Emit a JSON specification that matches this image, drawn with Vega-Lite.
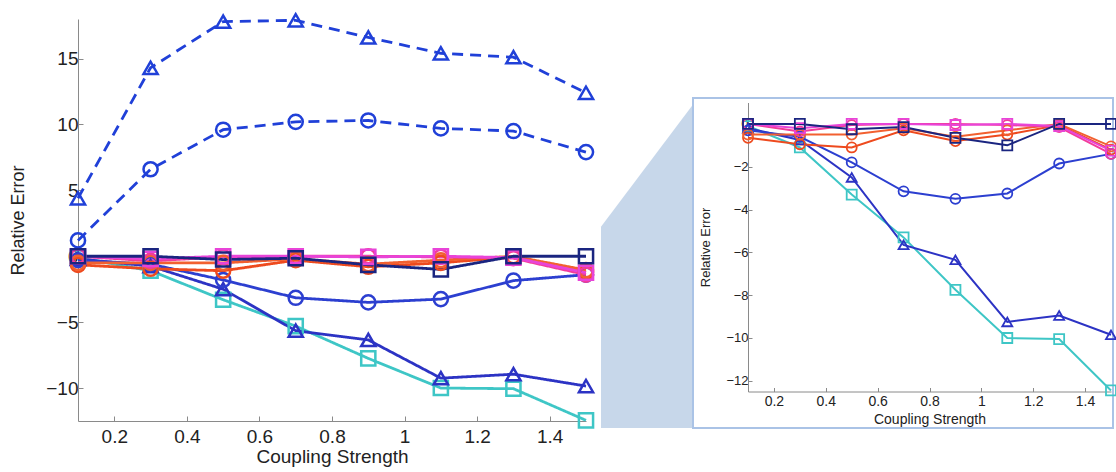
{
  "$schema": "https://vega.github.io/schema/vega-lite/v6.json",
  "padding": {"left": 9, "top": 9, "right": 0, "bottom": 0},
  "autosize": {"type": "pad"},
  "background": "white",
  "config": {
    "view": {"stroke": null},
    "axis": {"grid": false, "labelFont": "Liberation Sans", "titleFont": "Liberation Sans", "titleFontWeight": "normal", "domainColor": "#8a8a8a", "tickColor": "#8a8a8a", "labelColor": "#222222", "titleColor": "#222222", "labelOverlap": false, "labelFlush": false, "format": "~g"}
  },
  "datasets": {
    "main": [
      {"s": "dashTri", "x": 0.1, "y": 4.4}, {"s": "dashTri", "x": 0.3, "y": 14.3}, {"s": "dashTri", "x": 0.5, "y": 17.8}, {"s": "dashTri", "x": 0.7, "y": 17.9}, {"s": "dashTri", "x": 0.9, "y": 16.6}, {"s": "dashTri", "x": 1.1, "y": 15.4}, {"s": "dashTri", "x": 1.3, "y": 15.1}, {"s": "dashTri", "x": 1.5, "y": 12.4},
      {"s": "dashCirc", "x": 0.1, "y": 1.2}, {"s": "dashCirc", "x": 0.3, "y": 6.6}, {"s": "dashCirc", "x": 0.5, "y": 9.6}, {"s": "dashCirc", "x": 0.7, "y": 10.2}, {"s": "dashCirc", "x": 0.9, "y": 10.3}, {"s": "dashCirc", "x": 1.1, "y": 9.7}, {"s": "dashCirc", "x": 1.3, "y": 9.5}, {"s": "dashCirc", "x": 1.5, "y": 7.9},
      {"s": "cyanSq", "x": 0.1, "y": -0.1}, {"s": "cyanSq", "x": 0.3, "y": -1.1}, {"s": "cyanSq", "x": 0.5, "y": -3.3}, {"s": "cyanSq", "x": 0.7, "y": -5.3}, {"s": "cyanSq", "x": 0.9, "y": -7.75}, {"s": "cyanSq", "x": 1.1, "y": -10.0}, {"s": "cyanSq", "x": 1.3, "y": -10.05}, {"s": "cyanSq", "x": 1.5, "y": -12.45},
      {"s": "blueTri", "x": 0.1, "y": -0.2}, {"s": "blueTri", "x": 0.3, "y": -0.75}, {"s": "blueTri", "x": 0.5, "y": -2.5}, {"s": "blueTri", "x": 0.7, "y": -5.65}, {"s": "blueTri", "x": 0.9, "y": -6.35}, {"s": "blueTri", "x": 1.1, "y": -9.25}, {"s": "blueTri", "x": 1.3, "y": -8.95}, {"s": "blueTri", "x": 1.5, "y": -9.85},
      {"s": "blueCirc", "x": 0.1, "y": -0.3}, {"s": "blueCirc", "x": 0.3, "y": -0.6}, {"s": "blueCirc", "x": 0.5, "y": -1.8}, {"s": "blueCirc", "x": 0.7, "y": -3.15}, {"s": "blueCirc", "x": 0.9, "y": -3.5}, {"s": "blueCirc", "x": 1.1, "y": -3.25}, {"s": "blueCirc", "x": 1.3, "y": -1.85}, {"s": "blueCirc", "x": 1.5, "y": -1.4},
      {"s": "redA", "x": 0.1, "y": -0.65}, {"s": "redA", "x": 0.3, "y": -0.95}, {"s": "redA", "x": 0.5, "y": -1.1}, {"s": "redA", "x": 0.7, "y": -0.3}, {"s": "redA", "x": 0.9, "y": -0.8}, {"s": "redA", "x": 1.1, "y": -0.5}, {"s": "redA", "x": 1.3, "y": -0.05}, {"s": "redA", "x": 1.5, "y": -1.2},
      {"s": "redB", "x": 0.1, "y": -0.5}, {"s": "redB", "x": 0.3, "y": -0.5}, {"s": "redB", "x": 0.5, "y": -0.5}, {"s": "redB", "x": 0.7, "y": -0.2}, {"s": "redB", "x": 0.9, "y": -0.6}, {"s": "redB", "x": 1.1, "y": -0.3}, {"s": "redB", "x": 1.3, "y": 0}, {"s": "redB", "x": 1.5, "y": -1.05},
      {"s": "pinkCirc", "x": 0.1, "y": 0}, {"s": "pinkCirc", "x": 0.3, "y": -0.35}, {"s": "pinkCirc", "x": 0.5, "y": -0.05}, {"s": "pinkCirc", "x": 0.7, "y": 0}, {"s": "pinkCirc", "x": 0.9, "y": 0}, {"s": "pinkCirc", "x": 1.1, "y": -0.05}, {"s": "pinkCirc", "x": 1.3, "y": -0.15}, {"s": "pinkCirc", "x": 1.5, "y": -1.4},
      {"s": "magSq", "x": 0.1, "y": 0}, {"s": "magSq", "x": 0.3, "y": -0.2}, {"s": "magSq", "x": 0.5, "y": 0}, {"s": "magSq", "x": 0.7, "y": 0}, {"s": "magSq", "x": 0.9, "y": -0.05}, {"s": "magSq", "x": 1.1, "y": 0}, {"s": "magSq", "x": 1.3, "y": -0.1}, {"s": "magSq", "x": 1.5, "y": -1.25},
      {"s": "navySq", "x": 0.1, "y": 0}, {"s": "navySq", "x": 0.3, "y": 0}, {"s": "navySq", "x": 0.5, "y": -0.25}, {"s": "navySq", "x": 0.7, "y": -0.15}, {"s": "navySq", "x": 0.9, "y": -0.65}, {"s": "navySq", "x": 1.1, "y": -1.0}, {"s": "navySq", "x": 1.3, "y": 0}, {"s": "navySq", "x": 1.5, "y": 0}
    ],
    "trap": [
      {"tx": 0, "top": 61, "bottom": 0},
      {"tx": 100, "top": 98, "bottom": 0}
    ]
  },
  "resolve": {"scale": {"color": "independent", "shape": "independent", "strokeDash": "independent", "strokeWidth": "independent"}},
  "spacing": 15,
  "bounds": "flush",
  "hconcat": [
    {
      "width": 508,
      "height": 402,
      "data": {"name": "main"},
      "encoding": {
        "x": {"field": "x", "type": "quantitative", "scale": {"domain": [0.1, 1.5], "nice": false, "zero": false},
              "axis": {"values": [0.2, 0.4, 0.6, 0.8, 1, 1.2, 1.4], "title": "Coupling Strength", "labelFontSize": 19, "titleFontSize": 19, "tickSize": -5, "labelPadding": 11.5, "titlePadding": 1}},
        "y": {"field": "y", "type": "quantitative", "scale": {"domain": [-12.5, 18], "nice": false, "zero": false},
              "axis": {"values": [-10, -5, 0, 5, 10, 15], "title": "Relative Error", "labelFontSize": 19, "titleFontSize": 18, "tickSize": -5, "labelAlign": "right", "labelPadding": 5, "titlePadding": 18}},
        "color": {"field": "s", "type": "nominal", "legend": null,
                  "scale": {"domain": ["dashTri", "dashCirc", "cyanSq", "blueTri", "blueCirc", "redA", "redB", "pinkCirc", "magSq", "navySq"],
                            "range": ["#2040d8", "#2040d8", "#3ec6c6", "#2c33c4", "#2c3fd0", "#ee4a1e", "#f26030", "#f23c9a", "#e844d8", "#1a2580"]}}
      },
      "layer": [
        {"mark": {"type": "line"},
         "encoding": {
           "strokeDash": {"field": "s", "type": "nominal", "legend": null,
                          "scale": {"domain": ["dashTri", "dashCirc", "cyanSq", "blueTri", "blueCirc", "redA", "redB", "pinkCirc", "magSq", "navySq"],
                                    "range": [[11, 7], [11, 7], [1, 0], [1, 0], [1, 0], [1, 0], [1, 0], [1, 0], [1, 0], [1, 0]]}},
           "strokeWidth": {"field": "s", "type": "nominal", "legend": null,
                           "scale": {"domain": ["dashTri", "dashCirc", "cyanSq", "blueTri", "blueCirc", "redA", "redB", "pinkCirc", "magSq", "navySq"],
                                     "range": [2.8, 2.8, 2.6, 2.8, 2.8, 2.6, 2.6, 2.8, 2.8, 3.6]}}
         }},
        {"mark": {"type": "point", "filled": false, "strokeWidth": 2.5, "size": 200, "opacity": 1},
         "encoding": {
           "shape": {"field": "s", "type": "nominal", "legend": null,
                     "scale": {"domain": ["dashTri", "dashCirc", "cyanSq", "blueTri", "blueCirc", "redA", "redB", "pinkCirc", "magSq", "navySq"],
                               "range": ["triangle-up", "circle", "square", "triangle-up", "circle", "circle", "circle", "circle", "square", "square"]}}
         }}
      ]
    },
    {
      "spacing": 0,
      "bounds": "flush",
      "resolve": {"scale": {"color": "independent", "shape": "independent", "strokeDash": "independent", "strokeWidth": "independent"}},
      "vconcat": [
        {"width": 10, "height": 79, "data": {"values": [{"a": 1}]}, "mark": {"type": "point", "opacity": 0}, "encoding": {}},
        {
          "spacing": 0,
          "bounds": "flush",
          "resolve": {"scale": {"color": "independent", "shape": "independent", "strokeDash": "independent", "strokeWidth": "independent"}},
          "hconcat": [
            {
              "width": 92,
              "height": 330,
              "data": {"name": "trap"},
              "mark": {"type": "area", "color": "#c7d7ea", "opacity": 1},
              "encoding": {
                "x": {"field": "tx", "type": "quantitative", "scale": {"domain": [0, 100], "nice": false, "zero": false}, "axis": null},
                "y": {"field": "top", "type": "quantitative", "scale": {"domain": [0, 100], "nice": false, "zero": false}, "axis": null},
                "y2": {"field": "bottom"}
              }
            },
            {
              "width": 420,
              "height": 330,
              "view": {"stroke": "#aac3e6", "strokeWidth": 2},
              "data": {"name": "main"},
              "transform": [{"filter": "datum.s != 'dashTri' && datum.s != 'dashCirc'"}],
              "encoding": {
                "x": {"field": "x", "type": "quantitative", "scale": {"domain": [0.1, 1.5], "range": [55, 418], "nice": false, "zero": false},
                      "axis": {"values": [0.2, 0.4, 0.6, 0.8, 1, 1.2, 1.4], "title": "Coupling Strength", "labelFontSize": 14, "titleFontSize": 14, "tickSize": -4, "labelPadding": 7, "titlePadding": 3.5, "offset": -36.5}},
                "y": {"field": "y", "type": "quantitative", "scale": {"domain": [-12.5, 1], "range": [293.5, 4.5], "nice": false, "zero": false},
                      "axis": {"values": [-12, -10, -8, -6, -4, -2, 0], "title": "Relative Error", "labelFontSize": 13, "titleFontSize": 13, "tickSize": -4, "labelAlign": "right", "labelPadding": 4, "titlePadding": 13, "offset": -55}},
                "color": {"field": "s", "type": "nominal", "legend": null,
                          "scale": {"domain": ["cyanSq", "blueTri", "blueCirc", "redA", "redB", "pinkCirc", "magSq", "navySq"],
                                    "range": ["#3ec6c6", "#2c33c4", "#2c3fd0", "#ee4a1e", "#f26030", "#f23c9a", "#e844d8", "#1a2580"]}}
              },
              "layer": [
                {"mark": {"type": "line"},
                 "encoding": {
                   "strokeWidth": {"field": "s", "type": "nominal", "legend": null,
                                   "scale": {"domain": ["cyanSq", "blueTri", "blueCirc", "redA", "redB", "pinkCirc", "magSq", "navySq"],
                                             "range": [2, 2, 2, 1.8, 1.8, 2, 2, 2.8]}}
                 }},
                {"mark": {"type": "point", "filled": false, "strokeWidth": 1.8, "size": 100, "opacity": 1},
                 "encoding": {
                   "shape": {"field": "s", "type": "nominal", "legend": null,
                             "scale": {"domain": ["cyanSq", "blueTri", "blueCirc", "redA", "redB", "pinkCirc", "magSq", "navySq"],
                                       "range": ["square", "triangle-up", "circle", "circle", "circle", "circle", "square", "square"]}}
                 }}
              ]
            }
          ]
        }
      ]
    }
  ]
}
